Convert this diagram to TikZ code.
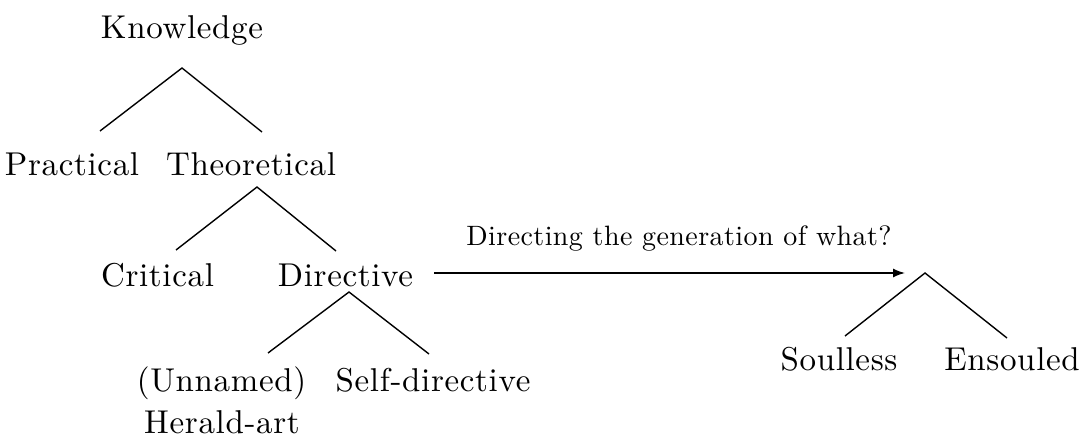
\documentclass[tikz,border=0pt]{standalone}
\usepackage{fontspec}
\newfontfamily\lmspaced{lmroman10-regular.otf}[LetterSpace=2]
\newfontfamily\lmspacedq{lmroman10-regular.otf}[LetterSpace=1.5]
\usetikzlibrary{arrows.meta}
\begin{document}
\begin{tikzpicture}[x=1pt,y=-1pt,
  term/.style={anchor=base,inner sep=0pt,font=\lmspaced\fontsize{33}{42}\selectfont},
  qlabel/.style={anchor=base,inner sep=0pt,font=\lmspacedq\fontsize{28}{34}\selectfont},
  branch/.style={line width=1.4pt,line cap=butt,line join=miter},
  arr/.style={line width=1.5pt,-{Latex[length=12pt,width=9pt]}}]
\useasboundingbox (0,0) rectangle (1081,444);
% nodes
\node[term] (knowledge) at (182,38) {Knowledge};
\node[term] (practical) at (72,175) {Practical};
\node[term] (theoretical) at (251,175) {Theoretical};
\node[term] (critical) at (157.5,286) {Critical};
\node[term] (directive) at (345.5,286) {Directive};
\node[term] (unnamed) at (221.5,391) {(Unnamed)};
\node[term] (herald) at (222,433) {Herald-art};
\node[term] (self) at (433,391) {Self-directive};
\node[term] (soulless) at (839,370) {Soulless};
\node[term] (ensouled) at (1012,370) {Ensouled};
\node[qlabel] (question) at (679,245) {Directing the generation of what?};
% tree joints
\coordinate (kA) at (182,68);
\coordinate (kL) at (100,131);
\coordinate (kR) at (262,132);
\coordinate (tA) at (257,187);
\coordinate (tL) at (176,250);
\coordinate (tR) at (336,251);
\coordinate (dA) at (349,292);
\coordinate (dL) at (268,353);
\coordinate (dR) at (429,354);
\coordinate (gA) at (925,273);
\coordinate (gL) at (845,336);
\coordinate (gR) at (1007,338);
\coordinate (arrS) at (434,273);
\coordinate (arrE) at (905,273);
% connectors
\draw[branch] (kL) -- (kA) -- (kR);
\draw[branch] (tL) -- (tA) -- (tR);
\draw[branch] (dL) -- (dA) -- (dR);
\draw[branch] (gL) -- (gA) -- (gR);
\draw[arr] (arrS) -- (arrE);
\end{tikzpicture}
\end{document}
